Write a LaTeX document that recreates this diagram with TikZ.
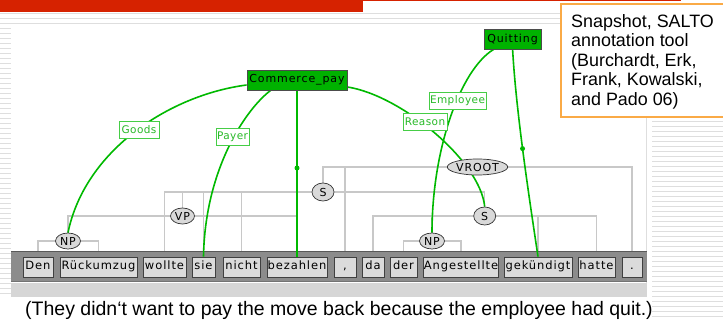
\documentclass[tikz,border=0pt]{standalone}
\usepackage{fontspec}
\newfontfamily\uifont[LetterSpace=8]{DejaVu Sans}
\newfontfamily\uilabelfont[LetterSpace=4]{DejaVu Sans}
\newfontfamily\arialfont{Liberation Sans}
\usetikzlibrary{shapes.geometric,calc}
\pgfdeclarelayer{bg}\pgfdeclarelayer{treel}\pgfdeclarelayer{barl}\pgfdeclarelayer{greenl}
\pgfsetlayers{bg,treel,barl,greenl,main}
\definecolor{fgreen}{RGB}{0,185,0}
\definecolor{boxgreen}{RGB}{0,178,0}
\definecolor{lgreen}{RGB}{70,205,70}
\definecolor{tgreen}{RGB}{40,185,40}
\definecolor{treegray}{RGB}{200,200,200}
\definecolor{stripe}{RGB}{222,222,222}
\definecolor{redbar}{RGB}{214,34,0}
\definecolor{calloutorange}{RGB}{250,170,70}
\definecolor{barmid}{RGB}{140,140,140}
\definecolor{barlight}{RGB}{214,214,214}
\begin{document}
\begin{tikzpicture}[x=1pt,y=-1pt,
  wordbox/.style={draw=black!75, fill=black!14, line width=0.8pt, minimum height=20pt,
    inner sep=0pt, font=\uifont\fontsize{11.5}{12}\selectfont, text height=8.5pt, text depth=2.5pt},
  tnode/.style={ellipse, draw=black!80, fill=black!15, line width=0.7pt, inner sep=0pt,
    minimum height=16pt, font=\uifont\fontsize{11}{11}\selectfont},
  glabel/.style={draw=lgreen, fill=white, line width=0.8pt, text=tgreen, inner sep=0pt,
    minimum height=17pt, font=\uilabelfont\fontsize{10.5}{11}\selectfont},
  framebox/.style={draw=black!70, fill=boxgreen, line width=0.8pt, minimum height=20pt,
    inner sep=0pt, font=\uifont\fontsize{11}{12}\selectfont},
  treeline/.style={draw=treegray, line width=1.5pt},
  greenline/.style={draw=fgreen, line width=1.6pt},
  gdot/.style={circle, fill=fgreen, inner sep=0pt, minimum size=5pt}]
\useasboundingbox (0,0) rectangle (723,320);

% ---------- background ----------
\begin{pgfonlayer}{bg}
  \fill[white] (0,0) rectangle (723,320);
  \foreach \y in {14,19,24} \draw[stripe, line width=1pt] (0,\y) -- (561,\y);
  \foreach \y in {29,34,...,297} \draw[stripe, line width=1pt] (0,\y) -- (11,\y);
  \foreach \y in {122,127,...,320} \draw[stripe, line width=1pt] (652,\y) -- (723,\y);
  \draw[stripe, line width=1pt] (646,117) -- (646,297);
  \fill[redbar] (0,0) rectangle (363,12);
  \fill[redbar] (363,0) rectangle (681,1.5);
\end{pgfonlayer}

% callout
\draw[calloutorange, line width=1.3pt, fill=white] (561,4) rectangle (724,117);
\node[anchor=north west, inner sep=0pt, align=left,
  font=\arialfont\fontsize{17.9}{19.5}\selectfont] (callout) at (571,14)
  {Snapshot, SALTO\\annotation tool\\(Burchardt, Erk,\\Frank, Kowalski,\\and Pado 06)};

% ---------- word bar ----------
\begin{pgfonlayer}{barl}
  \fill[barmid] (11,252) rectangle (647,282);
  \draw[black!65, line width=1pt] (11,252) -- (647,252);
  \draw[black!55, line width=1pt] (11,282) -- (647,282);
  \fill[barlight] (11,283) rectangle (647,297);
\end{pgfonlayer}

\node[wordbox, minimum width=30pt] (den)   at (38,267)    {Den};
\node[wordbox, minimum width=77pt] (ruck)  at (98.5,267)  {Rückumzug};
\node[wordbox, minimum width=43pt] (woll)  at (164.5,267) {wollte};
\node[wordbox, minimum width=23pt] (sie)   at (203.5,267) {sie};
\node[wordbox, minimum width=37pt] (nicht) at (241.5,267) {nicht};
\node[wordbox, minimum width=60pt] (bez)   at (297,267)   {bezahlen};
\node[wordbox, minimum width=22pt] (comma) at (345,267)   {,};
\node[wordbox, minimum width=22pt] (da)    at (373,267)   {da};
\node[wordbox, minimum width=27pt] (der)   at (403.5,267) {der};
\node[wordbox, minimum width=74pt] (ang)   at (461,267)   {Angestellte};
\node[wordbox, minimum width=68pt] (gek)   at (538,267)   {gekündigt};
\node[wordbox, minimum width=37pt] (hatte) at (596.5,267) {hatte};
\node[wordbox, minimum width=20pt] (stop)  at (632,267)   {.};

% ---------- syntax nodes ----------
\node[tnode, minimum width=25pt] (np1)   at (68,241)    {NP};
\node[tnode, minimum width=24pt] (vp)    at (182.5,216) {VP};
\node[tnode, minimum width=22pt, minimum height=18pt] (s1) at (323,192) {S};
\node[tnode, minimum width=51pt] (vroot) at (477.5,167) {VROOT};
\node[tnode, minimum width=22pt, minimum height=18pt] (s2) at (484.7,216) {S};
\node[tnode, minimum width=25pt] (np2)   at (432,241)   {NP};

\begin{pgfonlayer}{treel}
  \draw[treeline] (den.north) |- (np1.center) -| (ruck.north);
  \draw[treeline] (np1.center) |- (vp.center) -| (bez.north);
  \draw[treeline] (woll.north) |- (s1.center) -| (s2.center);
  \draw[treeline] (vp.center) -- (vp.center |- s1.center);
  \draw[treeline] (sie.north) -- (sie.north |- s1.center);
  \draw[treeline] (nicht.north) -- (nicht.north |- s1.center);
  \draw[treeline] (s1.center) |- (vroot.center) -| (stop.north);
  \draw[treeline] (comma.north) -- (comma.north |- vroot.center);
  \draw[treeline] (da.north) |- (s2.center) -| (hatte.north);
  \draw[treeline] (np2.center) -- (np2.center |- s2.center);
  \draw[treeline] (gek.north) -- (gek.north |- s2.center);
  \draw[treeline] (der.north) |- (np2.center) -| (ang.north);
\end{pgfonlayer}

% ---------- frames ----------
\node[framebox, minimum width=100pt] (cp) at (297,80)   {Commerce\_pay};
\node[framebox, minimum width=57pt]  (qu) at (512.5,39) {Quitting};

\begin{pgfonlayer}{greenl}
  \draw[greenline] ([yshift=-5pt]cp.west) .. controls (170,95) and (85,150) .. (np1.north);
  \draw[greenline] ([xshift=24pt]cp.south west) .. controls (245,110) and (205,170) .. (sie.north);
  \draw[greenline] (cp.south) -- node[gdot, pos=0.467] (d1) {} (bez.north);
  \draw[greenline] ([yshift=-7pt]cp.east) .. controls (400,95) and (480,160) .. (s2.north);
  \draw[greenline] ([xshift=10pt]qu.south west) .. controls (460,70) and (432,150) .. (np2.north);
  \draw[greenline] ([xshift=29pt]qu.south west) .. controls (516,110) and (528,190) .. node[gdot, pos=0.49] (d2) {} (gek.north);
\end{pgfonlayer}

\node[glabel, minimum width=40pt] (goods)    at (139,129.5)  {Goods};
\node[glabel, minimum width=33pt] (payer)    at (232.5,137)  {Payer};
\node[glabel, minimum width=57pt] (employee) at (457.5,100.5) {Employee};
\node[glabel, minimum width=44pt] (reason)   at (425,121.5)  {Reason};

% caption
\node[anchor=base west, inner sep=0pt, font=\arialfont\fontsize{19.5}{22}\selectfont] (cap)
  at (25,316) {(They didn‘t want to pay the move back because the employee had quit.)};
\end{tikzpicture}
\end{document}
